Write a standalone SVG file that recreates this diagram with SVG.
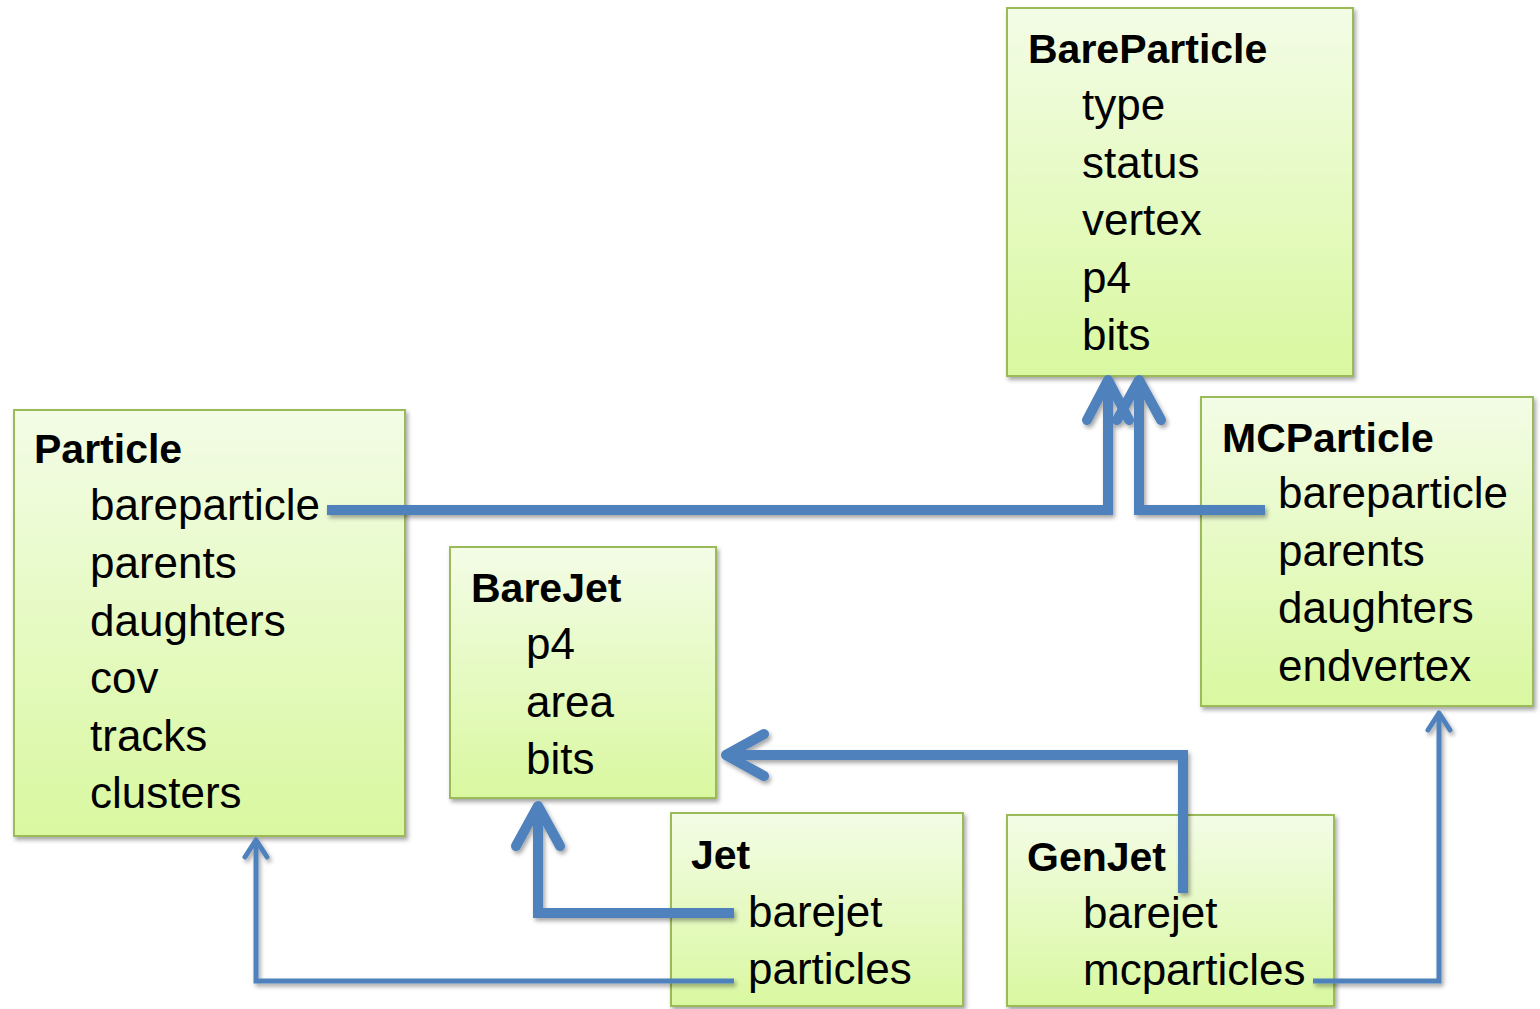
<svg xmlns="http://www.w3.org/2000/svg" width="1540" height="1009" viewBox="0 0 1540 1009">
<style>
.box{fill:url(#g);stroke:#9BBB59;stroke-width:2;filter:url(#sh)}
.t{font-family:"Liberation Sans",Arial,sans-serif;font-weight:bold;font-size:41px;fill:#000}
.i{font-family:"Liberation Sans",Arial,sans-serif;font-size:44px;fill:#000}
.thick{fill:none;stroke:#4F81BD;stroke-width:10;stroke-linejoin:miter}
.thin{fill:none;stroke:#4F81BD;stroke-width:5;stroke-linejoin:miter}
.head{fill:none;stroke:#4F81BD;stroke-linecap:round;stroke-linejoin:round}
</style>
<defs>
<linearGradient id="g" x1="0" y1="0" x2="0" y2="1">
<stop offset="0" stop-color="#F3FCE6"/>
<stop offset="1" stop-color="#D9F8A0"/>
</linearGradient>
<filter id="sh" x="-10%" y="-10%" width="130%" height="130%">
<feDropShadow dx="2" dy="3" stdDeviation="2" flood-color="#000" flood-opacity="0.35"/>
</filter>
</defs>
<rect width="1540" height="1009" fill="#fff"/>
<g id="BareParticle">
<rect class="box" x="1007" y="8" width="346" height="368"/>
<text class="t" x="1028" y="63">BareParticle</text>
<text class="i" x="1082" y="120">type</text>
<text class="i" x="1082" y="177.5">status</text>
<text class="i" x="1082" y="235">vertex</text>
<text class="i" x="1082" y="292.5">p4</text>
<text class="i" x="1082" y="350">bits</text>
</g>
<g id="Particle">
<rect class="box" x="14" y="410" width="391" height="426"/>
<text class="t" x="34" y="463">Particle</text>
<text class="i" x="90" y="520">bareparticle</text>
<text class="i" x="90" y="578">parents</text>
<text class="i" x="90" y="635.5">daughters</text>
<text class="i" x="90" y="693">cov</text>
<text class="i" x="90" y="751">tracks</text>
<text class="i" x="90" y="808">clusters</text>
</g>
<g id="MCParticle">
<rect class="box" x="1201" y="397" width="332" height="309"/>
<text class="t" x="1222" y="452">MCParticle</text>
<text class="i" x="1278" y="508">bareparticle</text>
<text class="i" x="1278" y="565.5">parents</text>
<text class="i" x="1278" y="623">daughters</text>
<text class="i" x="1278" y="680.5">endvertex</text>
</g>
<g id="BareJet">
<rect class="box" x="450" y="547" width="266" height="251"/>
<text class="t" x="471" y="602">BareJet</text>
<text class="i" x="526" y="659">p4</text>
<text class="i" x="526" y="716.5">area</text>
<text class="i" x="526" y="774">bits</text>
</g>
<g id="Jet">
<rect class="box" x="671" y="813" width="292" height="193"/>
<text class="t" x="691" y="869">Jet</text>
<text class="i" x="748" y="927">barejet</text>
<text class="i" x="748" y="984">particles</text>
</g>
<g id="GenJet">
<rect class="box" x="1007" y="815" width="327" height="191"/>
<text class="t" x="1027" y="871">GenJet</text>
<text class="i" x="1083" y="928">barejet</text>
<text class="i" x="1083" y="985">mcparticles</text>
</g>
<g id="connectors" filter="url(#sh)">
<path class="thick" d="M327 510 H1108 V380"/>
<path class="head" stroke-width="10" d="M1087 420 L1108 380 L1129 420"/>
<path class="thick" d="M1265 510 H1139 V380"/>
<path class="head" stroke-width="10" d="M1117 420 L1139 380 L1161 420"/>
<path class="thick" d="M734 913 H538 V806"/>
<path class="head" stroke-width="10" d="M516 846 L538 806 L560 846"/>
<path class="thick" d="M1183 893 V755 H726"/>
<path class="head" stroke-width="10" d="M764 734 L726 755 L764 776"/>
<path class="thin" d="M734 981 H256 V840"/>
<path class="head" stroke-width="5" d="M245 857 L256 840 L267 857"/>
<path class="thin" d="M1313 981 H1439 V713"/>
<path class="head" stroke-width="5" d="M1428 730 L1439 713 L1450 730"/>
</g>
</svg>
